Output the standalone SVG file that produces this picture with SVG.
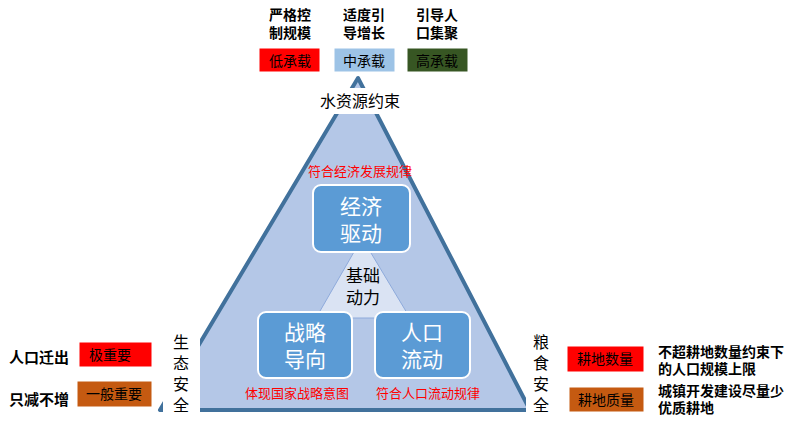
<svg xmlns="http://www.w3.org/2000/svg" width="795" height="431" viewBox="0 0 795 431">
<style>
text{font-family:"Noto Sans CJK SC","Liberation Sans",sans-serif}
.b{font-weight:bold;font-size:14px;fill:#000}
.c{font-size:14px;fill:#000;text-anchor:middle}
.r{font-size:13px;fill:#ff0000;text-anchor:middle}
.w{font-size:21px;fill:#fff;text-anchor:middle}
.box{stroke:#fff;stroke-width:1}
.rb{fill:#5b9bd5;stroke:#fff;stroke-width:2}
</style>
<rect width="795" height="431" fill="#fff"/>
<g id="triangle">
<polygon points="358,78 160,410 530,410" fill="#b4c7e7" stroke="#41719c" stroke-width="4" stroke-linejoin="round"/>
<polygon points="362,238 316,318 410,318" fill="#dae3f3" stroke="#8eaadb" stroke-width="1"/>
<text x="363" y="282" style="font-size:17px;text-anchor:middle">基础</text>
<text x="363" y="304" style="font-size:17px;text-anchor:middle">动力</text>
</g>
<g id="water"><rect x="300" y="88" width="120" height="26" fill="#fff"/><text x="360" y="107" style="font-size:16px;text-anchor:middle">水资源约束</text></g>
<g id="eco"><rect x="163" y="330" width="37" height="95" fill="#fff"/>
<text x="181" y="348" style="font-size:16px;text-anchor:middle">生</text><text x="181" y="369" style="font-size:16px;text-anchor:middle">态</text><text x="181" y="390" style="font-size:16px;text-anchor:middle">安</text><text x="181" y="411" style="font-size:16px;text-anchor:middle">全</text></g>
<g id="food"><rect x="526" y="330" width="32" height="95" fill="#fff"/>
<text x="541" y="348" style="font-size:16px;text-anchor:middle">粮</text><text x="541" y="369" style="font-size:16px;text-anchor:middle">食</text><text x="541" y="390" style="font-size:16px;text-anchor:middle">安</text><text x="541" y="411" style="font-size:16px;text-anchor:middle">全</text></g>
<g id="econ"><rect class="rb" x="313" y="185" width="97" height="67" rx="8"/><text class="w" x="361" y="214">经济</text><text class="w" x="361" y="241">驱动</text></g>
<g id="strat"><rect class="rb" x="258" y="312" width="94" height="66" rx="8"/><text class="w" x="305" y="340">战略</text><text class="w" x="305" y="367">导向</text></g>
<g id="pop"><rect class="rb" x="375" y="312" width="95" height="66" rx="8"/><text class="w" x="422" y="340">人口</text><text class="w" x="422" y="367">流动</text></g>
<text class="r" x="360" y="176">符合经济发展规律</text>
<text class="r" x="297" y="398">体现国家战略意图</text>
<text class="r" x="428" y="398">符合人口流动规律</text>
<g id="top">
<text class="b" x="290" y="20" text-anchor="middle">严格控</text><text class="b" x="290" y="38" text-anchor="middle">制规模</text>
<text class="b" x="364" y="20" text-anchor="middle">适度引</text><text class="b" x="364" y="38" text-anchor="middle">导增长</text>
<text class="b" x="437" y="20" text-anchor="middle">引导人</text><text class="b" x="437" y="38" text-anchor="middle">口集聚</text>
<rect class="box" x="259" y="48" width="61" height="24" fill="#ff0000"/><text class="c" x="290" y="66">低承载</text>
<rect class="box" x="334" y="48" width="61" height="24" fill="#9dc3e6"/><text class="c" x="364" y="66">中承载</text>
<rect class="box" x="407" y="48" width="61" height="24" fill="#375623"/><text class="c" x="437" y="66">高承载</text>
</g>
<g id="left">
<text class="b" x="9" y="363" style="font-size:15px">人口迁出</text><text class="b" x="9" y="405" style="font-size:15px">只减不增</text>
<rect class="box" x="79" y="342" width="73" height="25" fill="#ff0000"/><text class="c" x="110" y="360">极重要</text>
<rect class="box" x="77" y="381" width="75" height="26" fill="#c55a11"/><text class="c" x="114" y="399">一般重要</text>
</g>
<g id="right">
<rect class="box" x="567" y="346" width="77" height="26" fill="#ff0000"/><text class="c" x="605" y="364">耕地数量</text>
<rect class="box" x="569" y="387" width="75" height="25" fill="#c55a11"/><text class="c" x="606" y="405">耕地质量</text>
<text class="b" x="658" y="357">不超耕地数量约束下</text><text class="b" x="658" y="374">的人口规模上限</text>
<text class="b" x="658" y="396">城镇开发建设尽量少</text><text class="b" x="658" y="413">优质耕地</text>
</g>
<g id="connectors"/>
</svg>
